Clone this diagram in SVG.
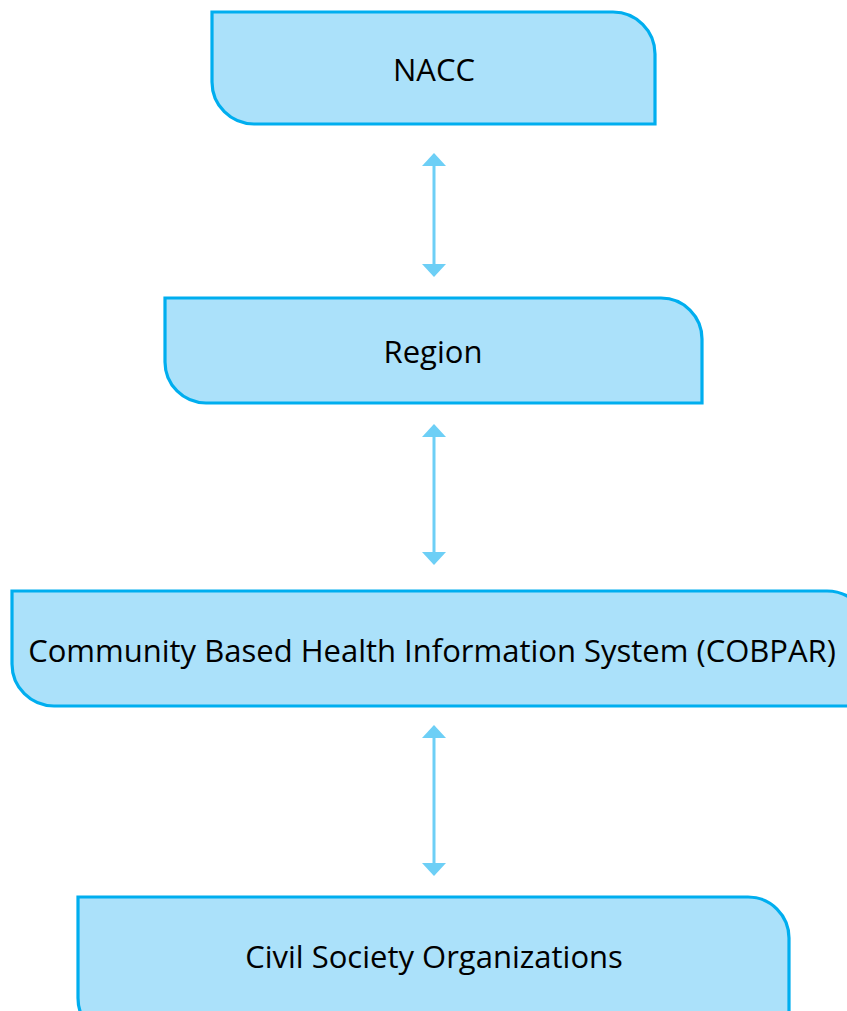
<svg xmlns="http://www.w3.org/2000/svg" width="847" height="1011" viewBox="0 0 847 1011">
  <defs>
    <style>
      .box { fill: #abe1fa; stroke: #00aeef; stroke-width: 3.2; }
      .label { font-family: "Open Sans", "Noto Sans", sans-serif; font-size: 31px; fill: #000; text-anchor: middle; }
      .link { stroke: #6dcff6; stroke-width: 3; fill: none; marker-start: url(#head); marker-end: url(#head); }
    </style>
    <marker id="head" viewBox="0 0 13 24" refX="2" refY="12" markerWidth="13" markerHeight="24" markerUnits="userSpaceOnUse" orient="auto-start-reverse">
      <path d="M0,0 L13,12 L0,24 Z" fill="#6dcff6"/>
    </marker>
  </defs>

  <!-- Boxes: square top-left and bottom-right, rounded top-right and bottom-left -->
  <g id="nacc">
    <path class="box" d="M212,12 H613 A42,42 0 0 1 655,54 V124 H254 A42,42 0 0 1 212,82 Z"/>
    <text class="label" x="434" y="81">NACC</text>
  </g>

  <g id="region">
    <path class="box" d="M165,298 H661 A41,41 0 0 1 702,339 V403 H206 A41,41 0 0 1 165,362 Z"/>
    <text class="label" x="433" y="363">Region</text>
  </g>

  <g id="cobpar">
    <path class="box" d="M12,591 H827 A42,42 0 0 1 869,633 V706 H54 A42,42 0 0 1 12,664 Z"/>
    <text class="label" x="432" y="662">Community Based Health Information System (COBPAR)</text>
  </g>

  <g id="cso">
    <path class="box" d="M78,897 H748 A41,41 0 0 1 789,938 V1040 H120 A42,42 0 0 1 78,998 Z"/>
    <text class="label" x="434" y="968">Civil Society Organizations</text>
  </g>

  <!-- Two-way connectors between levels -->
  <g id="connectors">
    <line class="link" x1="434" y1="164" x2="434" y2="266"/>
    <line class="link" x1="434" y1="435" x2="434" y2="554"/>
    <line class="link" x1="434" y1="736" x2="434" y2="865"/>
  </g>
</svg>
